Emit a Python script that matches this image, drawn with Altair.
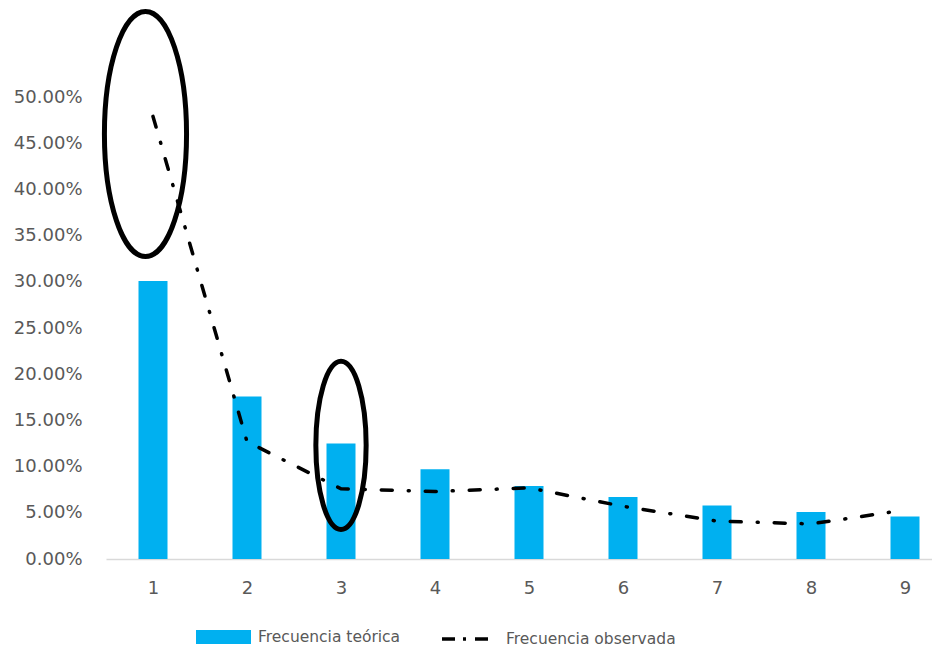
import altair as alt
import pandas as pd

# ---- data ----
digitos = [1, 2, 3, 4, 5, 6, 7, 8, 9]
frecuencia_teorica = [0.301, 0.176, 0.125, 0.097, 0.079, 0.067, 0.058, 0.051, 0.046]
frecuencia_observada = [0.479, 0.127, 0.076, 0.073, 0.077, 0.057, 0.041, 0.038, 0.053]
etiqueta_teorica = "Frecuencia teórica"
etiqueta_observada = "Frecuencia observada"
ticks_y = [0.0, 0.05, 0.10, 0.15, 0.20, 0.25, 0.30, 0.35, 0.40, 0.45, 0.50]

# annotation ellipses (centre in data units)
elipse1_x, elipse1_y = [0.92], [0.46]
elipse2_x, elipse2_y = [3.0], [0.123]

df = pd.DataFrame({
    "digito": digitos,
    "teorica": frecuencia_teorica,
    "observada": frecuencia_observada,
    "serie_t": etiqueta_teorica,
    "serie_o": etiqueta_observada,
})

W, H = 826, 462
STEP = 94
GRAY = "#595959"
FONT_AX = "DejaVu Sans"
FONT_LEG = "DejaVu Sans"


def ellipse_path(a):
    k = 0.5523
    ak = a * k
    return (f"M0,-1 C{ak:.4f},-1 {a:.4f},-{k} {a:.4f},0 "
            f"C{a:.4f},{k} {ak:.4f},1 0,1 "
            f"C-{ak:.4f},1 -{a:.4f},{k} -{a:.4f},0 "
            f"C-{a:.4f},-{k} -{ak:.4f},-1 0,-1 Z")


x_scale = alt.Scale(domain=[0.5, 0.5 + W / STEP], nice=False, zero=False, padding=0)
y_scale = alt.Scale(domain=[0, 0.5], nice=False, padding=0)

x_axis = alt.Axis(values=digitos, format="d", ticks=False, grid=False,
                  domainColor="#d9d9d9", domainWidth=1.5,
                  labelFont=FONT_AX, labelFontSize=18, labelColor=GRAY,
                  labelPadding=20)
y_axis = alt.Axis(values=ticks_y, format=".2%", ticks=False, grid=False,
                  domain=False, labelFont=FONT_AX, labelFontSize=18,
                  labelColor=GRAY, labelPadding=24)

leg_t = alt.Legend(orient="none", legendX=90, legendY=512.5, title=None,
                   symbolType="M-1,-0.2545H1V0.2545H-1Z", symbolSize=3025,
                   symbolStrokeWidth=0, symbolOpacity=1,
                   labelFont=FONT_LEG, labelFontSize=15.5, labelColor=GRAY,
                   labelOffset=7, labelLimit=0, padding=0)
leg_o = alt.Legend(orient="none", legendX=334, legendY=516.5, title=None,
                   symbolType="stroke", symbolSize=2209,
                   symbolStrokeWidth=3.5, symbolDash=[13, 8, 3, 9],
                   labelFont=FONT_LEG, labelFontSize=15.5, labelColor=GRAY,
                   labelOffset=15, labelLimit=0, padding=0)

bars = alt.Chart(df).mark_bar(size=29).encode(
    x=alt.X("digito:Q", scale=x_scale, axis=x_axis, title=None),
    y=alt.Y("teorica:Q", scale=y_scale, axis=y_axis, title=None),
    color=alt.Color("serie_t:N", scale=alt.Scale(range=["#00b0f0"]), legend=leg_t),
)

line = alt.Chart(df).mark_line(
    interpolate="linear", strokeWidth=3.5, strokeDash=[11, 16, 1, 16],
    strokeCap="round",
).encode(
    x=alt.X("digito:Q", title=None),
    y=alt.Y("observada:Q", title=None),
    stroke=alt.Stroke("serie_o:N", scale=alt.Scale(range=["#000000"]), legend=leg_o),
)

e1 = alt.Chart(pd.DataFrame({"x": elipse1_x, "y": elipse1_y})).mark_point(
    shape=ellipse_path(0.335), size=60100, filled=False, stroke="black",
    strokeWidth=5, opacity=1,
).encode(x=alt.X("x:Q", title=None), y=alt.Y("y:Q", title=None))

e2 = alt.Chart(pd.DataFrame({"x": elipse2_x, "y": elipse2_y})).mark_point(
    shape=ellipse_path(0.299), size=28300, filled=False, stroke="black",
    strokeWidth=5, opacity=1,
).encode(x=alt.X("x:Q", title=None), y=alt.Y("y:Q", title=None))

chart = alt.layer(bars, line, e1, e2).properties(
    width=W, height=H,
    padding={"left": 98, "top": 89, "right": 0, "bottom": 88},
    autosize=alt.AutoSizeParams(type="none"),
).configure_view(stroke=None)

chart.save("out.html", embed_options={"renderer": "svg", "actions": False})
